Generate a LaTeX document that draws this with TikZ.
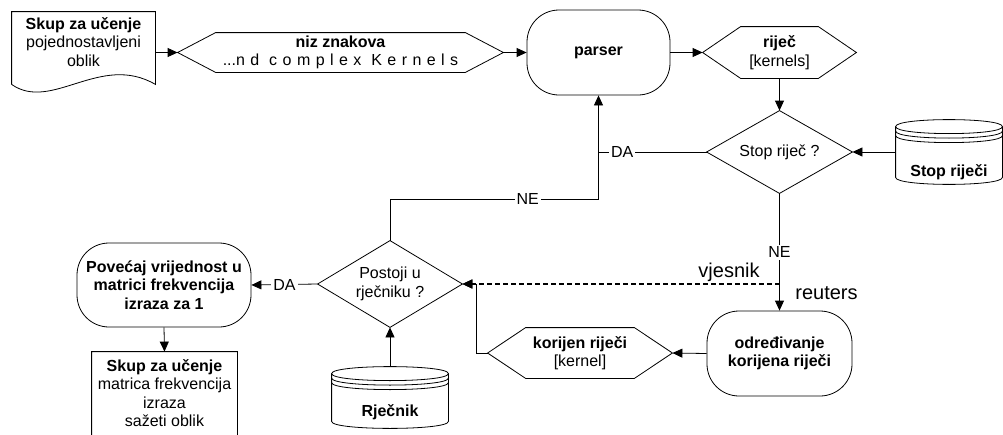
\documentclass[tikz,border=0pt]{standalone}
\usepackage{fontspec}
\setmainfont{Liberation Sans}
\usetikzlibrary{arrows.meta}

\begin{document}
\begin{tikzpicture}[x=1pt, y=-1pt, line width=0.8pt, font=\fontsize{16}{18.5}\selectfont]
\useasboundingbox (0,0) rectangle (1003,434);
\tikzstyle{box}=[align=center, inner sep=0pt]
\tikzstyle{proc}=[box, draw, rounded corners=32pt, minimum width=145pt, minimum height=85pt, font=\fontsize{16}{18.5}\selectfont\bfseries]
\tikzstyle{hexa}=[box, minimum height=50pt, append after command={\pgfextra{\draw ([xshift=38pt]\tikzlastnode.north west) -- ([xshift=-38pt]\tikzlastnode.north east) -- (\tikzlastnode.east) -- ([xshift=-38pt]\tikzlastnode.south east) -- ([xshift=38pt]\tikzlastnode.south west) -- (\tikzlastnode.west) -- cycle;}}]
\tikzstyle{decision}=[box, minimum width=145pt, minimum height=84pt, append after command={\pgfextra{\draw (\tikzlastnode.north) -- (\tikzlastnode.east) -- (\tikzlastnode.south) -- (\tikzlastnode.west) -- cycle;}}]
\tikzstyle{doc}=[box, minimum width=145pt, append after command={\pgfextra{\draw ([yshift=-12pt]\tikzlastnode.south west) -- (\tikzlastnode.north west) -- (\tikzlastnode.north east) -- ([yshift=-12pt]\tikzlastnode.south east) .. controls +(-55pt,32pt) and +(40pt,-28pt) .. ([yshift=-12pt]\tikzlastnode.south west);}}]
\tikzstyle{db}=[box, text depth=0pt, font=\fontsize{16}{18.5}\selectfont\bfseries, append after command={\pgfextra{
  \draw ([yshift=-7pt]\tikzlastnode.north west) .. controls ([yshift=2.33pt]\tikzlastnode.north west) and ([yshift=2.33pt]\tikzlastnode.north east) .. ([yshift=-7pt]\tikzlastnode.north east) -- ([yshift=7pt]\tikzlastnode.south east) .. controls ([yshift=-2.33pt]\tikzlastnode.south east) and ([yshift=-2.33pt]\tikzlastnode.south west) .. ([yshift=7pt]\tikzlastnode.south west) -- cycle;
  \draw ([yshift=-7pt]\tikzlastnode.north west) .. controls ([yshift=-16.33pt]\tikzlastnode.north west) and ([yshift=-16.33pt]\tikzlastnode.north east) .. ([yshift=-7pt]\tikzlastnode.north east);
  \draw ([yshift=-11.5pt]\tikzlastnode.north west) .. controls ([yshift=-20.83pt]\tikzlastnode.north west) and ([yshift=-20.83pt]\tikzlastnode.north east) .. ([yshift=-11.5pt]\tikzlastnode.north east);
  \draw ([yshift=-16pt]\tikzlastnode.north west) .. controls ([yshift=-25.33pt]\tikzlastnode.north west) and ([yshift=-25.33pt]\tikzlastnode.north east) .. ([yshift=-16pt]\tikzlastnode.north east);}}]
\tikzstyle{lbl}=[fill=white, inner sep=2pt]
\tikzstyle{big}=[inner sep=0pt, font=\fontsize{20}{24}\selectfont]
\tikzstyle{arr}=[-{Triangle[length=10pt,width=9pt]}]

% top row
\node[doc, minimum width=143pt, minimum height=60pt] (skup) at (83.5,42) {{\bfseries Skup za učenje}\\pojednostavljeni\\oblik};
\node[hexa, minimum width=325pt, minimum height=39pt] (niz) at (340.5,52.5) {{\bfseries niz znakova}\\...{\addfontfeature{LetterSpace=34}nd complex Kernels}};
\node[proc, minimum width=143pt] (parser) at (598.5,52.5) {parser};
\node[hexa, minimum width=153pt, minimum height=51pt] (rijec) at (779.5,52.5) {{\bfseries riječ}\\{[kernels]}};

% middle
\node[decision, minimum height=82pt] (stop) at (779.5,152) {Stop riječ ?};
\node[db, minimum width=106pt, minimum height=64pt, text height=48pt] (stopdb) at (949,152) {Stop riječi};

% bottom row
\node[decision, minimum width=144pt, minimum height=86pt] (postoji) at (390,284) {Postoji u\\rječniku ?};
\node[proc, minimum width=174pt, minimum height=84pt] (povecaj) at (164,285) {Povećaj vrijednost u\\matrici frekvencija\\izraza za 1};
\node[doc, minimum height=82pt] (skup2) at (164.5,393) {{\bfseries Skup za učenje}\\matrica frekvencija\\izraza\\sažeti oblik};
\node[db, minimum width=116pt, minimum height=61pt, text height=38pt] (rjecnik) at (390,397.5) {Rječnik};
\node[proc] (odred) at (779.5,353.5) {određivanje\\korijena riječi};
\node[hexa, minimum width=184pt] (kor) at (580,353) {{\bfseries korijen riječi}\\{[kernel]}};
\node[big] (vjesnik) at (729,272) {vjesnik};
\node[big] (reuters) at (826.5,293) {reuters};

\coordinate (join) at ([yshift=-104pt]parser.south);
\coordinate (split) at (odred.north |- postoji.east);

\draw[arr] (niz.west -| skup.east) -- (niz.west);
\draw[arr] (niz.east) -- (parser.west);
\draw[arr] (parser.east) -- (rijec.west);
\draw[arr] (rijec.south) -- (stop.north);
\draw[arr] (stopdb.west) -- (stop.east);
\draw (stop.west) -- node[lbl, pos=0.78]{DA} (stop.west -| join);
\draw[arr] (postoji.north) |- node[lbl, pos=0.83]{NE} (join) -- (parser.south);
\draw[arr] (stop.south) -- node[lbl]{NE} (odred.north);
\draw[arr, line width=1.6pt, dash pattern=on 5pt off 3pt] (split) -- (postoji.east);
\draw[arr] (odred.west) -- (kor.east);
\draw[arr] (kor.west) -- ++(-11,0) |- (postoji.east);
\draw[arr] (rjecnik.north) -- (postoji.south);
\draw[arr] (postoji.west) -- node[lbl]{DA} (povecaj.east);
\draw[arr] (povecaj.south) -- (skup2.north);
\end{tikzpicture}
\end{document}
